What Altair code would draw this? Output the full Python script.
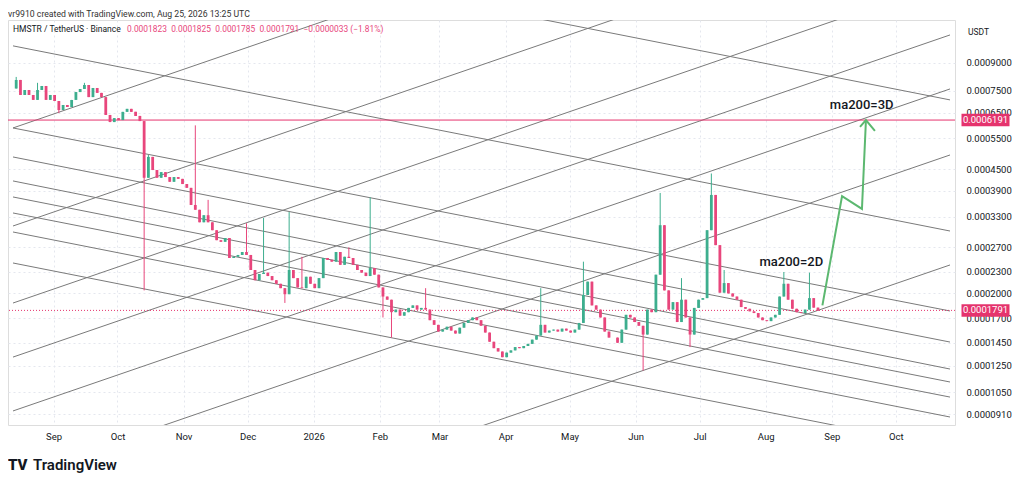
import altair as alt
import pandas as pd

# ---------------- data ----------------
candle_start = "2025-08-14"   # 2-day candles
close = [
    0.000804, 0.000729, 0.000753, 0.000729, 0.000706, 0.000753, 0.000773, 0.000706, 0.000729, 0.000701,
    0.000661, 0.000683, 0.000674, 0.000706, 0.000743, 0.000758, 0.000778, 0.000719, 0.000763, 0.000739,
    0.000719, 0.000640, 0.000611, 0.000627, 0.000619, 0.000653, 0.000666, 0.000653, 0.000636, 0.000615,
    0.000425, 0.000487, 0.000447, 0.000425, 0.000441, 0.000427, 0.000414, 0.000427, 0.000422, 0.000408,
    0.000398, 0.000356, 0.000345, 0.000318, 0.000333, 0.000318, 0.000302, 0.000283, 0.000280, 0.000287,
    0.000252, 0.000254, 0.000257, 0.000262, 0.000257, 0.000233, 0.000218, 0.000227, 0.000229, 0.000224,
    0.000218, 0.000213, 0.000207, 0.000199, 0.000233, 0.000221, 0.000208, 0.000207, 0.000223, 0.000213,
    0.000207, 0.000221, 0.000252, 0.000249, 0.000246, 0.000262, 0.000241, 0.000254, 0.000252, 0.000241,
    0.000233, 0.000229, 0.000224, 0.000236, 0.000226, 0.000208, 0.000196, 0.000192, 0.000177, 0.000180,
    0.000173, 0.000177, 0.000182, 0.000185, 0.000180, 0.000182, 0.000180, 0.000168, 0.000163, 0.000156,
    0.000158, 0.000161, 0.000157, 0.000154, 0.000160, 0.000165, 0.000168, 0.000171, 0.000168, 0.000162,
    0.000155, 0.000146, 0.000140, 0.000137, 0.000132, 0.000136, 0.000138, 0.000141, 0.000140, 0.000142,
    0.000144, 0.000148, 0.000152, 0.000163, 0.000155, 0.000157, 0.000158, 0.000156, 0.000159, 0.000157,
    0.000155, 0.000158, 0.000165, 0.000198, 0.000216, 0.000185, 0.000180, 0.000171, 0.000156, 0.000150,
    0.000150, 0.000145, 0.000158, 0.000174, 0.000171, 0.000166, 0.000162, 0.000153, 0.000180, 0.000177,
    0.000226, 0.000312, 0.000204, 0.000180, 0.000189, 0.000166, 0.000192, 0.000171, 0.000153, 0.000182,
    0.000192, 0.000194, 0.000302, 0.000380, 0.000274, 0.000201, 0.000214, 0.000200, 0.000196, 0.000192,
    0.000183, 0.000181, 0.000178, 0.000176, 0.000171, 0.000168, 0.000167, 0.000171, 0.000174, 0.000196,
    0.000213, 0.000192, 0.000181, 0.000177, 0.000176, 0.000180, 0.000194, 0.0001823, 0.0001791,
]
first_open = 0.000760
hi_idx = [0, 5, 16, 31, 42, 45, 54, 58, 64, 67, 78, 83, 96, 123, 133, 151, 156, 163, 166, 180, 186, 188]
hi_val = [0.00082, 0.000789, 0.000789, 0.000493, 0.000598, 0.000368, 0.000316, 0.000327, 0.00034,
          0.000254, 0.00027, 0.000374, 0.000207, 0.000207, 0.000246, 0.000385, 0.000221, 0.000437,
          0.000233, 0.00023, 0.000229, 0.0001825]
lo_idx = [10, 30, 63, 86, 88, 147, 158, 188]
lo_val = [0.000648, 0.000204, 0.000188, 0.000171, 0.00015, 0.000121, 0.000141, 0.0001785]

# fan drawing lines (price at left and right edge dates)
line_start = "2025-08-13T00:00:00Z"
line_end = "2026-10-26T10:00:00Z"
desc_left = [0.002357, 0.001004, 0.000588, 0.0004867, 0.0004163, 0.000375, 0.0003379, 0.0002985, 0.0002439]
desc_right = [0.000706, 0.0003004, 0.0001784, 0.0001457, 0.0001222, 0.0001123, 0.0001018, 0.0000894, 0.000073]
asc_left = [0.000588, 0.0003104, 0.0001879, 0.0001321, 0.000093, 0.0000604, 0.0000295]
asc_right = [0.004797, 0.002532, 0.001533, 0.001078, 0.0007582, 0.0004931, 0.0002408]

level_price = 0.0006191
last_price = 0.0001791

arrow_dates = ["2026-08-27T14:00:00Z", "2026-09-05T19:00:00Z", "2026-09-15T03:00:00Z", "2026-09-17T00:00:00Z"]
arrow_prices = [0.000185, 0.000377, 0.000347, 0.0006191]
head_dates = ["2026-09-14T05:00:00Z", "2026-09-17T00:00:00Z", "2026-09-21T05:00:00Z"]
head_prices = [0.000592, 0.0006191, 0.000577]

notes = ["ma200=2D", "ma200=3D"]
note_dates = ["2026-08-13T00:00:00Z", "2026-09-15T00:00:00Z"]
note_prices = [0.000246, 0.000683]

price_ticks = [0.0009, 0.00075, 0.00065, 0.00055, 0.00045, 0.00039, 0.00033, 0.00027, 0.00023,
               0.0002, 0.00017, 0.000145, 0.000125, 0.000105, 0.000091]
month_ticks = [(2025, m) for m in range(9, 13)] + [(2026, m) for m in range(1, 11)]

title_text = "vr9910 created with TradingView.com, Aug 25, 2026 13:25 UTC"
legend_name = "HMSTR / TetherUS · Binance"
legend_vals = "0.0001823\u20020.0001825\u20020.0001785\u20020.0001791\u2002\u22120.0000033 (\u22121.81%)"

# ---------------- styling ----------------
W, H = 947, 405
UP, DOWN = "#3dae8e", "#e8467c"
PINK = "#e5336d"
FANC = "#7a7a7a"
FONT = "Roboto"

x_scale = alt.Scale(type="utc", domain=[alt.DateTime(year=2025, month=8, date=13, utc=True),
                                        alt.DateTime(year=2026, month=10, date=26, hours=10, utc=True)])
y_scale = alt.Scale(type="log", domain=[0.00008486, 0.0011883], nice=False)

x_axis = alt.Axis(
    values=[alt.DateTime(year=y, month=m, date=1, utc=True) for y, m in month_ticks],
    labelExpr="utcFormat(datum.value, '%m') == '01' ? utcFormat(datum.value, '%Y') : utcFormat(datum.value, '%b')",
    ticks=False, domain=False, grid=True, gridColor="#e4e7ee", gridDash=[2, 3],
    labelPadding=6, labelFontSize=9.5, labelColor="#131722", labelFont=FONT, title=None,
    labelFlush=False,
)
y_axis = alt.Axis(
    orient="right", values=price_ticks, format=".7f", ticks=False, domain=False,
    grid=True, gridColor="#e4e7ee", gridDash=[2, 3], labelPadding=11, labelFontSize=9.5,
    labelColor="#131722", labelFont=FONT, title=None, labelOverlap=False, labelFlush=False,
)

# ---------------- frames ----------------
dates = pd.date_range(candle_start, periods=len(close), freq="2D")
opens = [first_open] + close[:-1]
hi = [max(o, c) for o, c in zip(opens, close)]
lo = [min(o, c) for o, c in zip(opens, close)]
for i, v in zip(hi_idx, hi_val):
    hi[i] = max(hi[i], v)
for i, v in zip(lo_idx, lo_val):
    lo[i] = min(lo[i], v)
candles = pd.DataFrame({
    "date": dates.strftime("%Y-%m-%dT12:00:00Z"),
    "open": opens, "close": close, "high": hi, "low": lo,
    "dir": ["up" if c >= o else "down" for o, c in zip(opens, close)],
})

fan = pd.DataFrame({
    "date": [line_start] * (len(desc_left) + len(asc_left)),
    "d2": [line_end] * (len(desc_left) + len(asc_left)),
    "p": desc_left + asc_left,
    "p2": desc_right + asc_right,
})

arrow = pd.DataFrame({"date": arrow_dates, "p": arrow_prices, "o": list(range(len(arrow_dates)))})
head = pd.DataFrame({"date": head_dates, "p": head_prices, "o": list(range(len(head_dates)))})
note_df = pd.DataFrame({"date": note_dates, "p": note_prices, "t": notes})
tags = pd.DataFrame({"p": [level_price, last_price], "t": ["%.7f" % level_price, "%.7f" % last_price]})


def X(field):
    return alt.X(field, type="temporal", scale=x_scale, axis=x_axis, title=None)


def Y(field):
    return alt.Y(field, type="quantitative", scale=y_scale, axis=y_axis, title=None)


color_enc = alt.Color("dir:N", scale=alt.Scale(domain=["up", "down"], range=[UP, DOWN]), legend=None)

wicks = alt.Chart(candles).mark_rule(strokeWidth=1).encode(
    x=X("date"), y=Y("low"), y2="high", color=color_enc)
bodies = alt.Chart(candles).mark_bar(size=2.8).encode(
    x=X("date"), y=Y("open"), y2="close", color=color_enc)

fan_lines = alt.Chart(fan).mark_rule(clip=True, color=FANC, strokeWidth=1).encode(
    x=X("date"), x2="d2", y=Y("p"), y2="p2")

level = alt.Chart(pd.DataFrame({"p": [level_price]})).mark_rule(color=PINK, strokeWidth=1).encode(y=Y("p"))
last = alt.Chart(pd.DataFrame({"p": [last_price]})).mark_rule(
    color=PINK, strokeWidth=1, strokeDash=[1, 2]).encode(y=Y("p"))

arrow_line = alt.Chart(arrow).mark_line(color="#5cb870", strokeWidth=2).encode(
    x=X("date"), y=Y("p"), order="o:Q")
arrow_head = alt.Chart(head).mark_line(color="#5cb870", strokeWidth=2).encode(
    x=X("date"), y=Y("p"), order="o:Q")

note_text = alt.Chart(note_df).mark_text(
    fontSize=13, font=FONT, fontWeight=500, color="#131722").encode(
    x=X("date"), y=Y("p"), text="t:N")

tag_box = alt.Chart(tags).mark_tick(orient="horizontal", size=48, thickness=12.5, color=PINK, opacity=1).encode(
    y=Y("p"), x=alt.value(977.5))
tag_text = alt.Chart(tags).mark_text(fontSize=9.5, font=FONT, color="white").encode(
    y=Y("p"), x=alt.value(977.5), text="t:N")


def label(text, x, y, size, color="#131722", weight=400, align="left"):
    return alt.Chart(pd.DataFrame({"t": [text]})).mark_text(
        align=align, baseline="middle", fontSize=size, font=FONT, fontWeight=weight, color=color
    ).encode(x=alt.value(x), y=alt.value(y), text="t:N")


chart = alt.layer(
    fan_lines, level, last, wicks, bodies, arrow_line, arrow_head, note_text, tag_box, tag_text,
    label(title_text, 0, -6, 8.7, "#333333"),
    label(legend_name, 5, 9, 8.5),
    label(legend_vals, 119, 9, 8.4, DOWN),
    label("USDT", 960, 11.5, 8.5),
    label("TV", 0, 445, 15, "#131722", 900),
    label("TradingView", 25, 445, 15, "#131722", 600),
).properties(
    width=W, height=H,
    padding={"left": 0, "top": 12, "right": 61, "bottom": 58},
    autosize=alt.AutoSizeParams(type="none"),
).configure_view(strokeWidth=0).configure(background="white")

chart.save("out.html", embed_options={"renderer": "svg", "actions": False})
